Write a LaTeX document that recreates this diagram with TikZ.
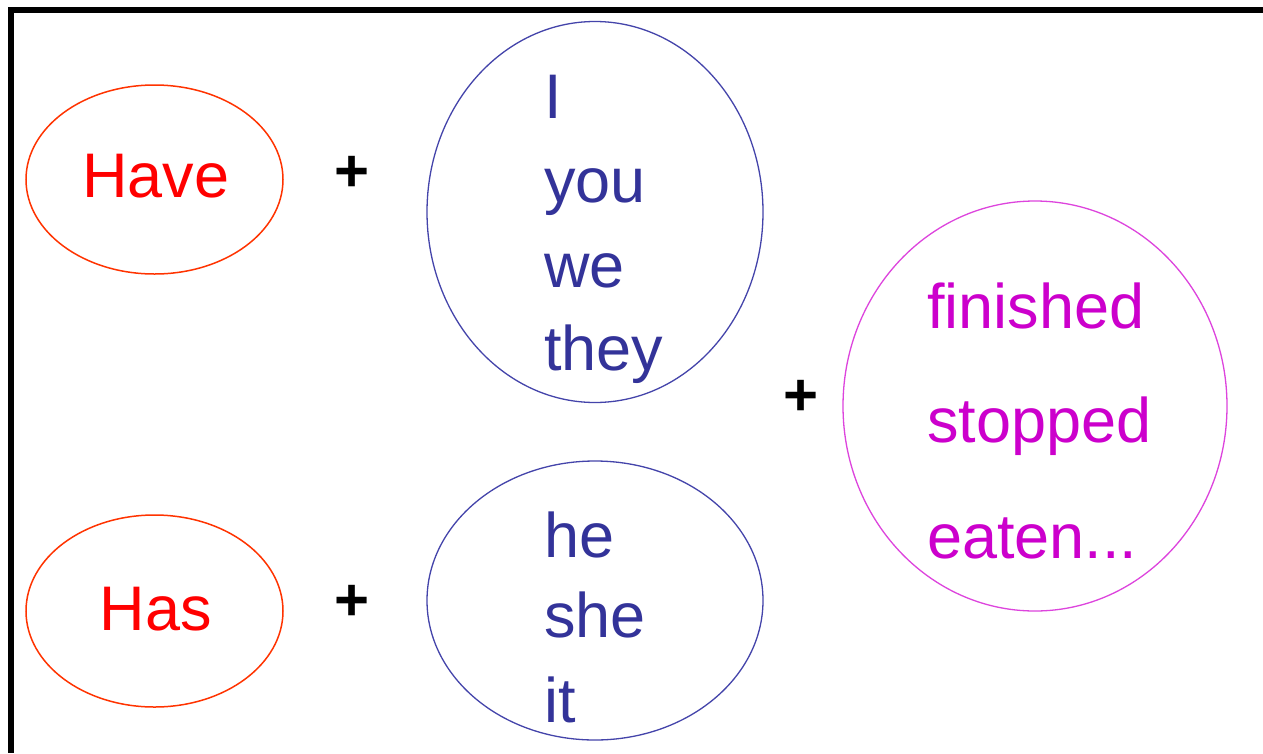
\documentclass[tikz,border=0pt]{standalone}
\usepackage{fontspec}
\setmainfont{Liberation Sans}
\usetikzlibrary{shapes.geometric}
\definecolor{hred}{HTML}{FF3300}
\definecolor{tred}{HTML}{FF0000}
\definecolor{bline}{HTML}{4444AA}
\definecolor{btext}{HTML}{333399}
\definecolor{mline}{HTML}{DD44DD}
\definecolor{mtext}{HTML}{CC00CC}
\tikzset{
  oval/.style={ellipse, draw, line width=1.5pt, inner sep=0pt, minimum width=#1},
  word/.style={inner sep=0pt, font=\fontsize{63}{75}\selectfont},
  plus/.style={inner sep=0pt, font=\fontsize{60}{70}\selectfont\bfseries, text=black}
}
\begin{document}
\begin{tikzpicture}[x=1pt,y=-1pt]
\useasboundingbox (0,0) rectangle (1263,753);
\fill[white] (0,0) rectangle (1263,753);
\draw[line width=6pt] (1263,10) -- (11,10) -- (11,753);
% ellipses
\node[oval=257pt, minimum height=189pt, draw=hred] (have) at (154.5,179.5) {};
\node[oval=257pt, minimum height=192pt, draw=hred] (has) at (154.5,611) {};
\node[oval=336pt, minimum height=381pt, draw=bline, line width=1.3pt] (pro1) at (595,212) {};
\node[oval=336pt, minimum height=279pt, draw=bline, line width=1.3pt] (pro2) at (595,600.5) {};
\node[oval=384pt, minimum height=410pt, draw=mline, line width=1.3pt] (verb) at (1035,406) {};
% texts
\node[word, text=tred, anchor=base] (thave) at (156,197) {Have};
\node[word, text=tred, anchor=base] (thas) at (156,630) {Has};
\node[word, text=btext, anchor=base west] (ti) at (544,118) {I};
\node[word, text=btext, anchor=base west] (tyou) at (544,202) {you};
\node[word, text=btext, anchor=base west] (twe) at (544,287) {we};
\node[word, text=btext, anchor=base west] (tthey) at (544,370) {they};
\node[word, text=btext, anchor=base west] (the) at (544,557) {he};
\node[word, text=btext, anchor=base west] (tshe) at (544,637) {she};
\node[word, text=btext, anchor=base west] (tit) at (544,722) {it};
\node[word, text=mtext, anchor=base west] (tfin) at (927,328) {finished};
\node[word, text=mtext, anchor=base west] (tsto) at (927,442) {stopped};
\node[word, text=mtext, anchor=base west] (teat) at (927,558) {eaten...};
% plus signs
\node[plus] (p1) at (352.5,173.5) {+};
\node[plus] (p2) at (352.5,603) {+};
\node[plus] (p3) at (801,398) {+};
\end{tikzpicture}
\end{document}
